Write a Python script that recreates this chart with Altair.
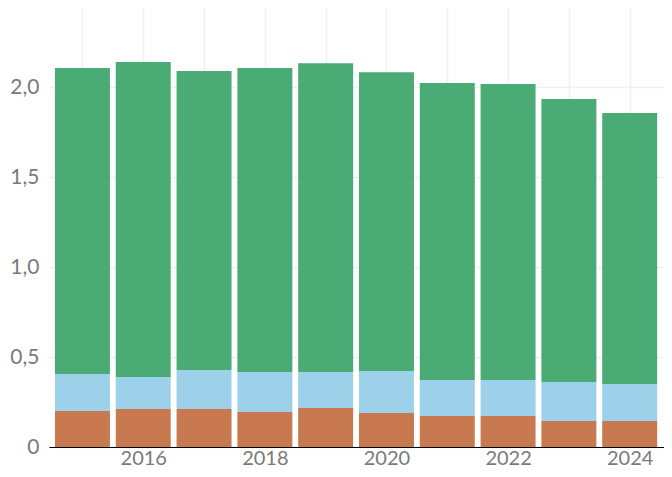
import altair as alt
import pandas as pd

years = [2015, 2016, 2017, 2018, 2019, 2020, 2021, 2022, 2023, 2024]
orange = [0.200, 0.211, 0.211, 0.194, 0.217, 0.189, 0.172, 0.172, 0.144, 0.144]
blue_top = [0.406, 0.389, 0.428, 0.417, 0.417, 0.422, 0.372, 0.372, 0.361, 0.350]
total = [2.106, 2.139, 2.089, 2.106, 2.133, 2.083, 2.022, 2.017, 1.933, 1.856]

series = ["A", "B", "C"]
colors = ["#c8794f", "#9dd1ea", "#4aab75"]

rows = []
for i, y in enumerate(years):
    rows.append({"year": y, "series": "A", "value": orange[i], "order": 0})
    rows.append({"year": y, "series": "B", "value": blue_top[i] - orange[i], "order": 1})
    rows.append({"year": y, "series": "C", "value": total[i] - blue_top[i], "order": 2})
df = pd.DataFrame(rows)

font = "Lato"
label_color = "#7a7a7a"
grid_color = "#f0f0f0"

chart = (
    alt.Chart(df)
    .transform_stack(
        stack="value",
        groupby=["year"],
        sort=[alt.SortField("order", order="ascending")],
        as_=["v0", "v1"],
    )
    .transform_calculate(x0="datum.year - 0.452", x1="datum.year + 0.452")
    .mark_bar()
    .encode(
        x=alt.X(
            "x0:Q",
            scale=alt.Scale(domain=[2014.45, 2024.63], nice=False, zero=False),
            axis=alt.Axis(
                values=years,
                labelExpr="datum.value % 2 == 0 ? datum.value : ''",
                format="d",
                title=None,
                ticks=False,
                domainColor="#000000",
                domainWidth=1,
                gridColor=grid_color,
                gridWidth=1.5,
                labelFont=font,
                labelFontSize=20,
                labelColor=label_color,
                labelPadding=1,
            ),
        ),
        x2="x1:Q",
        y=alt.Y(
            "v0:Q",
            scale=alt.Scale(domain=[0, 2.456], nice=False),
            axis=alt.Axis(
                values=[0, 0.5, 1.0, 1.5, 2.0],
                labelExpr="replace(format(datum.value, datum.value == 0 ? 'd' : '.1f'), '.', ',')",
                title=None,
                ticks=False,
                domain=False,
                gridColor=grid_color,
                gridWidth=1.5,
                labelFont=font,
                labelFontSize=21,
                labelColor=label_color,
                labelPadding=10,
            ),
        ),
        y2="v1:Q",
        color=alt.Color(
            "series:N",
            scale=alt.Scale(domain=series, range=colors),
            legend=None,
        ),
    )
    .properties(
        width=619,
        height=442,
        autosize=alt.AutoSizeParams(type="none"),
        padding={"left": 41, "top": -3, "right": -4, "bottom": 22},
    )
    .configure_view(stroke=None)
)

chart.save("out.html", embed_options={"renderer": "svg", "actions": False})
